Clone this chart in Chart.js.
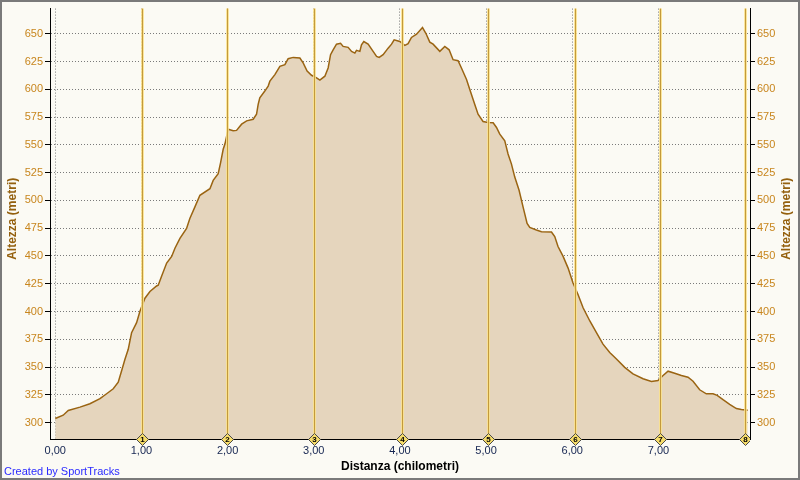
<!DOCTYPE html>
<html><head><meta charset="utf-8">
<script src="https://cdn.jsdelivr.net/npm/chart.js@4"></script>
<style>html,body{margin:0;padding:0;background:#fbfaf4}canvas{display:block}</style>
</head><body>
<div style="width:800px;height:480px"><canvas id="c" width="800" height="480"></canvas></div>
<script>
const distanceKm = [0.00,0.092,0.151,0.287,0.402,0.519,0.596,0.673,0.731,0.771,
0.809,0.847,0.886,0.944,0.982,1.041,1.099,1.176,1.195,1.234,
1.293,1.351,1.389,1.447,1.524,1.562,1.621,1.679,1.795,1.833,
1.891,1.919,1.949,1.969,2.007,2.065,2.104,2.163,2.221,2.297,
2.336,2.355,2.374,2.432,2.471,2.491,2.549,2.607,2.665,2.703,
2.761,2.839,2.877,2.923,2.974,3.033,3.071,3.129,3.167,3.195,
3.225,3.264,3.311,3.341,3.399,3.439,3.477,3.496,3.535,3.554,
3.581,3.631,3.689,3.729,3.759,3.805,3.863,3.903,3.933,3.999,
4.057,4.095,4.134,4.193,4.262,4.301,4.347,4.385,4.463,4.521,
4.571,4.617,4.675,4.714,4.773,4.811,4.869,4.907,4.965,5.024,
5.082,5.121,5.159,5.217,5.255,5.294,5.333,5.383,5.429,5.476,
5.507,5.584,5.643,5.759,5.797,5.835,5.894,5.952,6.009,6.067,
6.126,6.204,6.281,6.357,6.435,6.513,6.609,6.705,6.822,6.919,
6.995,7.054,7.112,7.189,7.267,7.344,7.402,7.479,7.556,7.634,
7.682,7.750,7.827,7.905,7.963,8.036];
const elevationM = [303.7,306.7,311,314,317,321.6,326,330.5,336.4,347,
357,366,381,390,400,412,418,423,423.7,431.7,
443.6,449.6,457,465.9,474.8,483.7,494.2,504.6,510.5,518,
524,534,546,550.7,564,562.7,563,568.6,571.6,573,
577.5,586.4,592.4,598.4,602.9,607.3,613.2,620.7,622.1,627.5,
628.7,628.1,623.7,616.3,612.6,610.3,608.2,611.8,619.2,631.1,
635.5,640.6,641.3,638.6,637.7,634.1,632.6,635,634.1,640,
643,640.6,634.1,629.6,628.7,631.1,637,640.6,644.5,643,
639.5,641,646.6,649.6,655.5,650.4,642.4,640.6,634.1,638.6,
635.5,626.6,625.7,619.2,608.8,599.8,586.4,577.5,571,570.1,
569.8,565.6,559.6,553.7,541.8,532.9,521,509.1,494.2,479.3,
475.7,473.4,471.9,471.6,467.4,458.5,449.6,439.1,425.7,415.4,
403.4,391.5,381.1,370.7,363.2,357.3,349.8,343.9,339.5,337,
337.9,342.4,346.3,344.5,342.4,340.9,337.3,329.6,326,326,
324.6,320.7,316.5,312.7,311.8,311.2];
const lapKm = [1.002,1.988,3.001,4.019,5.023,6.029,7.02,8.005];
const lapLabels = ['1','2','3','4','5','6','7','8'];
const xTicks = [0,1,2,3,4,5,6,7];
const yTicks = [300,325,350,375,400,425,450,475,500,525,550,575,600,625,650];
const xRange = [-0.061, 8.063];
const yRange = [285.3, 672.6];
const yTitle = 'Altezza (metri)';
const xTitle = 'Distanza (chilometri)';
const credit = 'Created by SportTracks';

Chart.defaults.font.family = '"Liberation Sans", Arial, sans-serif';
Chart.defaults.font.size = 11;

const points = distanceKm.map((d, i) => ({x: d, y: elevationM[i]}));
const fmtKm = v => Number(v).toFixed(2).replace('.', ',');

const overlay = {
  id: 'overlay',
  beforeDraw(chart) {
    const ctx = chart.ctx;
    ctx.save();
    ctx.fillStyle = '#fbfaf4';
    ctx.fillRect(0, 0, chart.width, chart.height);
    ctx.restore();
  },
  afterDraw(chart) {
    const {ctx, chartArea: a, scales: {x}} = chart;
    ctx.save();
    ctx.beginPath();
    ctx.rect(a.left, 0, a.right - a.left, chart.height);
    ctx.clip();
    lapKm.forEach(km => {
      const px = Math.round(x.getPixelForValue(km)) + 0.5;
      ctx.strokeStyle = 'rgba(250,226,140,0.85)';
      ctx.lineWidth = 3;
      ctx.beginPath(); ctx.moveTo(px, a.top); ctx.lineTo(px, a.bottom); ctx.stroke();
      ctx.strokeStyle = '#c39a3c';
      ctx.lineWidth = 1;
      ctx.beginPath(); ctx.moveTo(px, a.top); ctx.lineTo(px, a.bottom); ctx.stroke();
    });
    lapKm.forEach((km, i) => {
      const cx = Math.round(x.getPixelForValue(km)) + 0.5;
      const cy = Math.round(a.bottom) + 0.5;
      const h = 6;
      ctx.beginPath();
      ctx.moveTo(cx, cy - h); ctx.lineTo(cx + h, cy); ctx.lineTo(cx, cy + h); ctx.lineTo(cx - h, cy); ctx.closePath();
      ctx.fillStyle = '#f6dc6a';
      ctx.fill();
      ctx.strokeStyle = '#4a4a4a';
      ctx.lineWidth = 1;
      ctx.stroke();
      ctx.fillStyle = '#000';
      ctx.font = 'bold 8px "Liberation Sans", sans-serif';
      ctx.textAlign = 'center';
      ctx.textBaseline = 'middle';
      ctx.fillText(lapLabels[i], cx, cy + 0.5);
    });
    ctx.restore();

    ctx.save();
    const cyMid = (a.top + a.bottom) / 2 - 5;
    ctx.font = 'bold 12px "Liberation Sans", sans-serif';
    ctx.fillStyle = '#94600e';
    ctx.textAlign = 'center';
    ctx.textBaseline = 'middle';
    [13, chart.width - 13].forEach(tx => {
      ctx.save();
      ctx.translate(tx, cyMid);
      ctx.rotate(-Math.PI / 2);
      ctx.fillText(yTitle, 0, 0);
      ctx.restore();
    });
    ctx.fillStyle = '#000';
    ctx.fillText(xTitle, (a.left + a.right) / 2, 466.5);
    ctx.font = '11px "Liberation Sans", sans-serif';
    ctx.fillStyle = '#2b2bff';
    ctx.textAlign = 'left';
    ctx.fillText(credit, 4, 471.5);
    ctx.strokeStyle = '#7a7a7a';
    ctx.lineWidth = 2;
    ctx.strokeRect(1, 1, chart.width - 2, chart.height - 2);
    ctx.restore();
  }
};

new Chart(document.getElementById('c'), {
  type: 'line',
  data: {
    datasets: [{
      data: points,
      borderColor: '#9a6412',
      borderWidth: 1.5,
      backgroundColor: '#e5d5bd',
      fill: 'start',
      pointRadius: 0,
      tension: 0
    }]
  },
  options: {
    responsive: false,
    animation: false,
    devicePixelRatio: 1,
    layout: {padding: {top: 5, left: 0, right: 0, bottom: 0}},
    plugins: {legend: {display: false}, tooltip: {enabled: false}},
    scales: {
      x: {
        type: 'linear', min: xRange[0], max: xRange[1], z: 1,
        afterBuildTicks: s => { s.ticks = xTicks.map(v => ({value: v})); },
        afterFit: s => { s.height = 41; },
        ticks: {callback: v => fmtKm(v), color: '#142450', padding: 5, maxRotation: 0, autoSkip: false},
        grid: {color: '#7a7a7a', drawTicks: false, lineWidth: 1},
        border: {color: '#000', dash: [1, 2]}
      },
      y: {
        type: 'linear', position: 'left', min: yRange[0], max: yRange[1], z: 1,
        afterBuildTicks: s => { s.ticks = yTicks.map(v => ({value: v})); },
        afterFit: s => { s.width = 50; },
        ticks: {color: '#c8861e', padding: 2, callback: v => String(v)},
        grid: {color: '#7a7a7a', tickColor: '#000', tickLength: 5, tickBorderDash: [], lineWidth: 1},
        border: {color: '#000', dash: [1, 2]}
      },
      y2: {
        type: 'linear', position: 'right', min: yRange[0], max: yRange[1], z: 1,
        afterBuildTicks: s => { s.ticks = yTicks.map(v => ({value: v})); },
        afterFit: s => { s.width = 50; },
        ticks: {color: '#c8861e', padding: 2, callback: v => String(v)},
        grid: {drawOnChartArea: false, color: '#000', tickColor: '#000', tickLength: 5, tickBorderDash: []},
        border: {color: '#000'}
      }
    }
  },
  plugins: [overlay]
});
</script>
</body></html>
